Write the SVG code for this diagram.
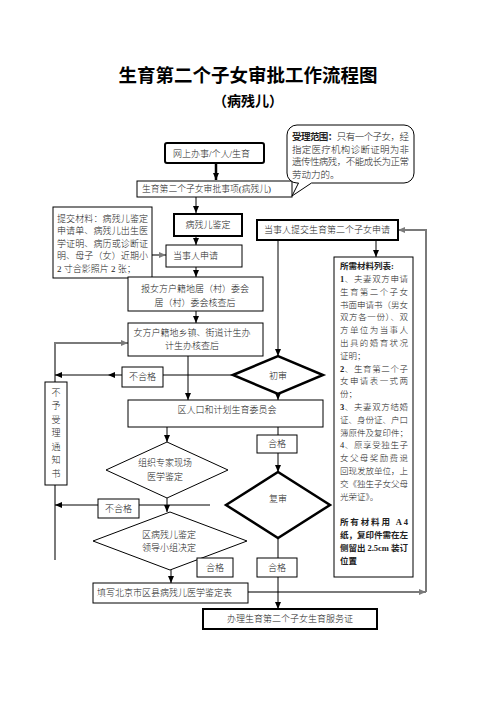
<svg xmlns="http://www.w3.org/2000/svg" width="496" height="702" viewBox="0 0 496 702">
<defs>
<marker id="a" markerUnits="userSpaceOnUse" markerWidth="7" markerHeight="6" refX="7" refY="3" orient="auto"><path d="M0,0 L7,3 L0,6 z" fill="#000"/></marker>
<marker id="g" markerUnits="userSpaceOnUse" markerWidth="7" markerHeight="6" refX="7" refY="3" orient="auto"><path d="M0,0 L7,3 L0,6 z" fill="#7a7a7a"/></marker>
<style>
.t{font-family:'Liberation Serif','Noto Sans CJK SC',serif;font-size:9px;font-weight:300;fill:#222}
.c{text-anchor:middle}
.b{font-weight:bold}
.bx{fill:#fff;stroke:#000;stroke-width:1}
.bk{fill:#fff;stroke:#000;stroke-width:2}
.ln{stroke:#000;stroke-width:1;fill:none}
.gl{stroke:#7a7a7a;stroke-width:2;fill:none}
.m{font-size:8.5px}
</style>
</defs>
<rect width="496" height="702" fill="#fff"/>
<g id="title">
<text class="t b c" x="248" y="82" style="font-size:18.5px;fill:#000">生育第二个子女审批工作流程图</text>
<text class="t b c" x="248" y="106" style="font-size:14px;fill:#000">（病残儿）</text>
</g>
<g id="connectors">
<path class="ln" d="M216,163 V180" style="stroke-width:2.5" marker-end="url(#a)"/>
<path class="ln" d="M196,197 V213" marker-end="url(#a)"/>
<path class="ln" d="M196,236 V245" marker-end="url(#a)"/>
<path class="ln" d="M196,267 V277" marker-end="url(#a)"/>
<path class="ln" d="M196,311 V323" marker-end="url(#a)"/>
<path class="gl" d="M152,255 H166" marker-end="url(#g)"/>
<path class="ln" d="M278,240 V356" marker-end="url(#a)"/>
<path class="ln" d="M376,240 V257" marker-end="url(#a)"/>
<path class="gl" d="M248,592 H426" marker-end="url(#g)"/>
<path class="gl" d="M426,592 V230 H398" marker-end="url(#g)"/>
<path class="gl" d="M55,560 V343 H128" marker-end="url(#g)"/>
<path class="ln" d="M233,375 H163"/>
<path class="ln" d="M122,375 H108" marker-end="url(#a)"/>
<path class="ln" d="M108,375 H55" marker-end="url(#a)"/>
<path class="ln" d="M188,356 V400" marker-end="url(#a)"/>
<path class="ln" d="M278,394 V400" marker-end="url(#a)"/>
<path class="ln" d="M167,427 V442" marker-end="url(#a)"/>
<path class="ln" d="M278,427 V472" marker-end="url(#a)"/>
<path class="ln" d="M167,498 V512" marker-end="url(#a)"/>
<path class="ln" d="M139,505 H210"/>
<path class="ln" d="M98,505 H55" marker-end="url(#a)"/>
<path class="ln" d="M171,570 V583" marker-end="url(#a)"/>
<path class="ln" d="M278,538 V609" marker-end="url(#a)"/>
</g>
<g id="n-online">
<rect class="bk" x="165" y="143" width="99" height="20" rx="2"/>
<text class="t" x="173" y="156.5">网上办事/个人/生育</text>
</g>
<g id="n-item">
<rect class="bx" x="137" y="181" width="155" height="16"/>
<text class="t" x="142" y="192.3" style="font-size:8.8px">生育第二个子女审批事项(病残儿)</text>
</g>
<g id="n-scope">
<rect class="bx" x="287" y="125" width="127" height="58" rx="10"/>
<path d="M298.5,181 L311.5,181 L311.5,184 L298.5,184 z" fill="#fff"/>
<path class="ln" d="M298.5,183 L292,196 L311.5,183"/>
<text class="t" x="292" y="140.2" textLength="117" lengthAdjust="spacing" style="font-size:9.5px"><tspan class="b">受理范围：</tspan>只有一个子女，经</text>
<text class="t" x="292" y="152.7" textLength="117" lengthAdjust="spacing" style="font-size:9.5px">指定医疗机构诊断证明为非</text>
<text class="t" x="292" y="165.2" textLength="117" lengthAdjust="spacing" style="font-size:9.5px">遗传性病残，不能成长为正常</text>
<text class="t" x="292" y="177.7" style="font-size:9.5px">劳动力的。</text>
</g>
<g id="n-materials">
<rect class="bx" x="53" y="207" width="99" height="71"/>
<text class="t" x="57" y="221.5" textLength="91" lengthAdjust="spacing">提交材料：病残儿鉴定</text>
<text class="t" x="57" y="234" textLength="91" lengthAdjust="spacing">申请单、病残儿出生医</text>
<text class="t" x="57" y="246.5" textLength="91" lengthAdjust="spacing">学证明、病历或诊断证</text>
<text class="t" x="57" y="259" textLength="91" lengthAdjust="spacing">明、母子（女）近期小</text>
<text class="t" x="57" y="271.5">2 寸合影照片 2 张；</text>
</g>
<g id="n-appraise">
<rect class="bk" x="174" y="214" width="68" height="22"/>
<text class="t c" x="208" y="228.3">病残儿鉴定</text>
</g>
<g id="n-apply">
<rect class="bx" x="166" y="245" width="76" height="22"/>
<text class="t" x="173" y="259.3">当事人申请</text>
</g>
<g id="n-village">
<rect class="bx" x="128" y="277" width="135" height="34"/>
<text class="t c" x="195" y="291.5">报女方户籍地居（村）委会</text>
<text class="t c" x="195" y="305.5">居（村）委会核查后</text>
</g>
<g id="n-town">
<rect class="bx" x="128" y="323" width="135" height="33"/>
<text class="t c" x="192" y="336.3">女方户籍地乡镇、街道计生办</text>
<text class="t c" x="192" y="348.5">计生办核查后</text>
</g>
<g id="n-fail1">
<rect class="bx" x="122" y="367" width="41" height="20"/>
<text class="t c" x="142.5" y="380.3">不合格</text>
</g>
<g id="n-first">
<polygon points="233,375 278,356 323,375 278,394" fill="#fff" stroke="#000" stroke-width="2.5"/>
<text class="t c" x="278" y="378.5">初审</text>
</g>
<g id="n-submit">
<rect class="bk" x="257" y="220" width="141" height="20"/>
<text class="t" x="264" y="233.3">当事人提交生育第二个子女申请</text>
</g>
<g id="n-list">
<rect class="bx" x="334" y="257" width="79" height="320"/>
<text class="t m b" x="340" y="269.2">所需材料列表:</text>
<text class="t m" x="340" y="282" textLength="68" lengthAdjust="spacing"><tspan class="b">1</tspan>、夫妻双方申请</text>
<text class="t m" x="340" y="294.8" textLength="68" lengthAdjust="spacing">生育第二个子女</text>
<text class="t m" x="340" y="307.6" textLength="68" lengthAdjust="spacing">书面申请书（男女</text>
<text class="t m" x="340" y="320.4" textLength="68" lengthAdjust="spacing">双方各一份）、双</text>
<text class="t m" x="340" y="333.2" textLength="68" lengthAdjust="spacing">方单位为当事人</text>
<text class="t m" x="340" y="346" textLength="68" lengthAdjust="spacing">出具的婚育状况</text>
<text class="t m" x="340" y="358.8">证明；</text>
<text class="t m" x="340" y="371.6" textLength="68" lengthAdjust="spacing"><tspan class="b">2</tspan>、生育第二个子</text>
<text class="t m" x="340" y="384.4" textLength="68" lengthAdjust="spacing">女申请表一式两</text>
<text class="t m" x="340" y="397.2">份；</text>
<text class="t m" x="340" y="410" textLength="68" lengthAdjust="spacing"><tspan class="b">3</tspan>、夫妻双方结婚</text>
<text class="t m" x="340" y="422.8" textLength="68" lengthAdjust="spacing">证、身份证、户口</text>
<text class="t m" x="340" y="435.6" textLength="68" lengthAdjust="spacing">簿原件及复印件；</text>
<text class="t m" x="340" y="448.4" textLength="68" lengthAdjust="spacing">4、原享受独生子</text>
<text class="t m" x="340" y="461.2" textLength="68" lengthAdjust="spacing">女父母奖励费退</text>
<text class="t m" x="340" y="474" textLength="68" lengthAdjust="spacing">回现发放单位，上</text>
<text class="t m" x="340" y="486.8" textLength="68" lengthAdjust="spacing">交《独生子女父母</text>
<text class="t m" x="340" y="499.6">光荣证》。</text>
<text class="t m b" x="340" y="525.2" textLength="68" lengthAdjust="spacing">所有材料用 A4</text>
<text class="t m b" x="340" y="538" textLength="68" lengthAdjust="spacing">纸，复印件需在左</text>
<text class="t m b" x="340" y="550.8" textLength="68" lengthAdjust="spacing">侧留出 2.5cm 装订</text>
<text class="t m b" x="340" y="563.6">位置</text>
</g>
<g id="n-reject">
<rect class="bx" x="45" y="382" width="22" height="103"/>
<text class="t c" x="56" y="395.5">不</text>
<text class="t c" x="56" y="409">予</text>
<text class="t c" x="56" y="422.5">受</text>
<text class="t c" x="56" y="436">理</text>
<text class="t c" x="56" y="449.5">通</text>
<text class="t c" x="56" y="463">知</text>
<text class="t c" x="56" y="476.5">书</text>
</g>
<g id="n-committee">
<rect class="bx" x="128" y="400" width="195" height="27"/>
<text class="t c" x="227" y="412.5">区人口和计划生育委员会</text>
</g>
<g id="n-pass1">
<rect class="bx" x="257" y="435" width="40" height="18"/>
<text class="t c" x="277" y="447.3">合格</text>
</g>
<g id="n-expert">
<polygon points="106,470 167,442 228,470 167,498" fill="#fff" stroke="#000" stroke-width="1"/>
<text class="t c" x="165" y="466.3">组织专家现场</text>
<text class="t c" x="165" y="480.3">医学鉴定</text>
</g>
<g id="n-second">
<polygon points="226,505 278,472 330,505 278,538" fill="#fff" stroke="#000" stroke-width="2.5"/>
<text class="t c" x="278" y="501.5">复审</text>
</g>
<g id="n-fail2">
<rect class="bx" x="98" y="499" width="41" height="19"/>
<text class="t c" x="118.5" y="511.8">不合格</text>
</g>
<g id="n-leader">
<polygon points="93,541 170,512 247,541 170,570" fill="#fff" stroke="#000" stroke-width="1"/>
<text class="t c" x="169" y="538.3">区病残儿鉴定</text>
<text class="t c" x="169" y="551.3">领导小组决定</text>
</g>
<g id="n-pass2">
<rect class="bx" x="197" y="558" width="36" height="19"/>
<text class="t c" x="215" y="570.8">合格</text>
</g>
<g id="n-pass3">
<rect class="bx" x="257" y="558" width="40" height="19"/>
<text class="t c" x="277" y="570.8">合格</text>
</g>
<g id="n-form">
<rect class="bx" x="93" y="583" width="155" height="20"/>
<text class="t" x="97" y="596.3">填写北京市区县病残儿医学鉴定表</text>
</g>
<g id="n-cert">
<rect class="bk" x="203" y="609" width="174" height="20"/>
<text class="t c" x="290" y="622.3">办理生育第二个子女生育服务证</text>
</g>
</svg>
